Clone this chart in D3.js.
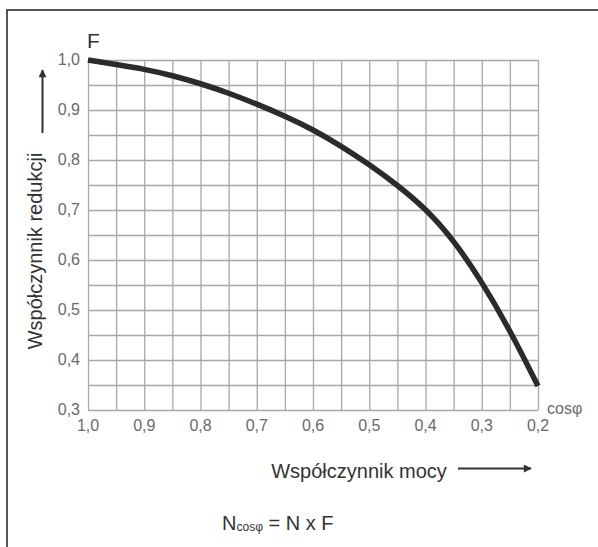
<!DOCTYPE html>
<html>
<head>
<meta charset="utf-8">
<script src="https://cdn.jsdelivr.net/npm/d3@7"></script>
<style>
  body { margin: 0; background: #fff; }
  svg { display: block; font-family: "Liberation Sans", Arial, sans-serif; }
</style>
</head>
<body>
<svg id="chart" width="598" height="547"></svg>
<script>
// power factor (cos phi) and reduction factor F
var cosPhi = [1.0, 0.95, 0.9, 0.85, 0.8, 0.75, 0.7, 0.65, 0.6, 0.55, 0.5, 0.45, 0.4, 0.35, 0.3, 0.25, 0.2];
var factorF = [1.0, 0.991, 0.982, 0.969, 0.953, 0.934, 0.912, 0.888, 0.861, 0.828, 0.791, 0.750, 0.703, 0.640, 0.557, 0.460, 0.348];

var xTickLabels = ["1,0", "0,9", "0,8", "0,7", "0,6", "0,5", "0,4", "0,3", "0,2"];
var yTickLabels = ["0,3", "0,4", "0,5", "0,6", "0,7", "0,8", "0,9", "1,0"];
var xTickValues = [1.0, 0.9, 0.8, 0.7, 0.6, 0.5, 0.4, 0.3, 0.2];
var yTickValues = [0.3, 0.4, 0.5, 0.6, 0.7, 0.8, 0.9, 1.0];
// minor grid every 0.05
var xGridValues = [1.0, 0.95, 0.9, 0.85, 0.8, 0.75, 0.7, 0.65, 0.6, 0.55, 0.5, 0.45, 0.4, 0.35, 0.3, 0.25, 0.2];
var yGridValues = [0.3, 0.35, 0.4, 0.45, 0.5, 0.55, 0.6, 0.65, 0.7, 0.75, 0.8, 0.85, 0.9, 0.95, 1.0];

var svg = d3.select("#chart");
var margin = {left: 88, top: 60, right: 60, bottom: 137};
var width = 598 - margin.left - margin.right;   // 450
var height = 547 - margin.top - margin.bottom;  // 350

// outer frame
svg.append("rect")
    .attr("x", 7).attr("y", 10)
    .attr("width", 620).attr("height", 560)
    .style("fill", "none")
    .style("stroke", "#555")
    .style("stroke-width", 2);

var g = svg.append("g")
    .attr("transform", "translate(" + margin.left + "," + margin.top + ")");

var x = d3.scaleLinear().domain([1.0, 0.2]).range([0, width]);
var y = d3.scaleLinear().domain([0.3, 1.0]).range([height, 0]);

// grid
var xGrid = g.append("g")
    .attr("transform", "translate(0," + height + ")")
    .call(d3.axisBottom(x).tickValues(xGridValues).tickSize(-height).tickFormat(""));
var yGrid = g.append("g")
    .call(d3.axisLeft(y).tickValues(yGridValues).tickSize(-width).tickFormat(""));
[xGrid, yGrid].forEach(function(a){
    a.select(".domain").remove();
    a.selectAll("line").style("stroke", "#a8a8a8").style("stroke-width", 1.3);
});

// tick labels
g.append("g").selectAll("text")
    .data(xTickValues)
    .enter().append("text")
    .attr("x", function(d){ return x(d); })
    .attr("y", height + 21)
    .attr("text-anchor", "middle")
    .style("font-size", "16px")
    .style("fill", "#6a6a6a")
    .text(function(d, i){ return xTickLabels[i]; });

g.append("g").selectAll("text")
    .data(yTickValues)
    .enter().append("text")
    .attr("x", -8)
    .attr("y", function(d){ return y(d) + 5; })
    .attr("text-anchor", "end")
    .style("font-size", "16px")
    .style("fill", "#6a6a6a")
    .text(function(d, i){ return yTickLabels[i]; });

// curve
var line = d3.line()
    .x(function(d){ return x(d[0]); })
    .y(function(d){ return y(d[1]); })
    .curve(d3.curveBasis);

g.append("path")
    .datum(cosPhi.map(function(c, i){ return [c, factorF[i]]; }))
    .attr("d", line)
    .style("fill", "none")
    .style("stroke", "#2b2b2b")
    .style("stroke-width", 5.5);

// labels
g.append("text")
    .attr("x", -1).attr("y", -12)
    .style("font-size", "21px")
    .style("fill", "#333")
    .text("F");

g.append("text")
    .attr("x", width + 9).attr("y", height + 4)
    .style("font-size", "16px")
    .style("fill", "#6a6a6a")
    .text("cosφ");

svg.append("text")
    .attr("transform", "translate(42,251) rotate(-90)")
    .attr("text-anchor", "middle")
    .style("font-size", "20px")
    .style("fill", "#333")
    .text("Współczynnik redukcji");

svg.append("text")
    .attr("x", 359).attr("y", 478)
    .attr("text-anchor", "middle")
    .style("font-size", "20px")
    .style("fill", "#333")
    .text("Współczynnik mocy");

// arrows
var defs = svg.append("defs");
defs.append("marker")
    .attr("id", "arrow")
    .attr("viewBox", "0 0 10 10")
    .attr("refX", 9).attr("refY", 5)
    .attr("markerWidth", 6).attr("markerHeight", 4)
    .attr("markerUnits", "strokeWidth")
    .attr("orient", "auto")
    .append("path")
    .attr("d", "M0,0L10,5L0,10z")
    .style("fill", "#333");

svg.append("line")
    .attr("x1", 42.5).attr("y1", 133)
    .attr("x2", 42.5).attr("y2", 70)
    .style("stroke", "#333").style("stroke-width", 2)
    .attr("marker-end", "url(#arrow)");

svg.append("line")
    .attr("x1", 458).attr("y1", 468.5)
    .attr("x2", 531).attr("y2", 468.5)
    .style("stroke", "#333").style("stroke-width", 2)
    .attr("marker-end", "url(#arrow)");

// formula
var f = svg.append("text")
    .attr("x", 222).attr("y", 530)
    .style("fill", "#333")
    .style("font-size", "20px");
f.append("tspan").text("N");
f.append("tspan").style("font-size", "12px").attr("dy", 1).text("cosφ");
f.append("tspan").attr("dy", -1).text(" = N x F");
</script>
</body>
</html>
